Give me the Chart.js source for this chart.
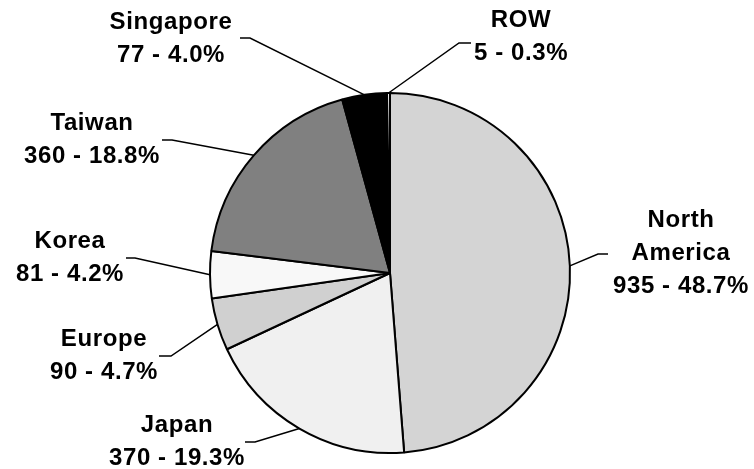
<!DOCTYPE html>
<html>
<head>
<meta charset="utf-8">
<script src="https://cdn.jsdelivr.net/npm/chart.js@4"></script>
<style>
  html, body { margin: 0; padding: 0; background: #fff; }
  #wrap { width: 754px; height: 469px; }
</style>
</head>
<body>
<div id="wrap"><canvas id="grafico"></canvas></div>
<script>
// === Datos ===
const regiones = [["North", "America"], "Japan", "Europe", "Korea", "Taiwan", "Singapore", "ROW"];
const valores = [935, 370, 90, 81, 360, 77, 5];
const colores = ["#d4d4d4", "#f0f0f0", "#d0d0d0", "#f8f8f8", "#808080", "#000000", "#ffffff"];

// posición de cada etiqueta: centro del texto, codo y final de la línea guía
const etiquetas = [
  { x: 681, y: 220, codo: [598, 254], fin: [608, 254] },
  { x: 177, y: 425, codo: [255, 442], fin: [245, 442] },
  { x: 104, y: 339, codo: [171, 356], fin: [159, 356] },
  { x: 70,  y: 241, codo: [135, 258], fin: [126, 258] },
  { x: 92,  y: 123, codo: [172, 140], fin: [162, 140] },
  { x: 171, y: 22,  codo: [250, 38],  fin: [240, 38] },
  { x: 521, y: 20,  codo: [459, 43],  fin: [471, 43] }
];

const total = valores.reduce((a, b) => a + b, 0);

// === Etiquetas con líneas guía ===
const etiquetasPlugin = {
  id: "etiquetas",
  afterDatasetsDraw(chart) {
    const ctx = chart.ctx;
    const arcos = chart.getDatasetMeta(0).data;
    ctx.save();
    ctx.strokeStyle = "#000";
    ctx.lineWidth = 1.5;
    arcos.forEach((arco, i) => {
      const { x, y, startAngle, endAngle, outerRadius } = arco.getProps(["x", "y", "startAngle", "endAngle", "outerRadius"], true);
      const medio = (startAngle + endAngle) / 2;
      const e = etiquetas[i];
      ctx.beginPath();
      ctx.moveTo(x + Math.cos(medio) * outerRadius, y + Math.sin(medio) * outerRadius);
      ctx.lineTo(e.codo[0], e.codo[1]);
      ctx.lineTo(e.fin[0], e.fin[1]);
      ctx.stroke();

      const nombre = [].concat(regiones[i]);
      const pct = (valores[i] / total * 100).toFixed(1);
      const lineas = [...nombre, `${valores[i]} - ${pct}%`];
      ctx.fillStyle = "#000";
      ctx.font = "bold 24px 'Liberation Sans', Arial, sans-serif";
      ctx.letterSpacing = "0.6px";
      ctx.textAlign = "center";
      ctx.textBaseline = "middle";
      lineas.forEach((t, k) => ctx.fillText(t, e.x, e.y + k * 33));
    });
    ctx.restore();
  }
};

new Chart(document.getElementById("grafico"), {
  type: "pie",
  data: {
    labels: regiones,
    datasets: [{
      data: valores,
      backgroundColor: colores,
      borderColor: "#000",
      borderWidth: 2
    }]
  },
  options: {
    responsive: true,
    maintainAspectRatio: false,
    animation: false,
    layout: { padding: { top: 92, bottom: 15, left: 30, right: 4 } },
    plugins: {
      legend: { display: false },
      tooltip: { enabled: false }
    }
  },
  plugins: [etiquetasPlugin]
});
</script>
</body>
</html>
